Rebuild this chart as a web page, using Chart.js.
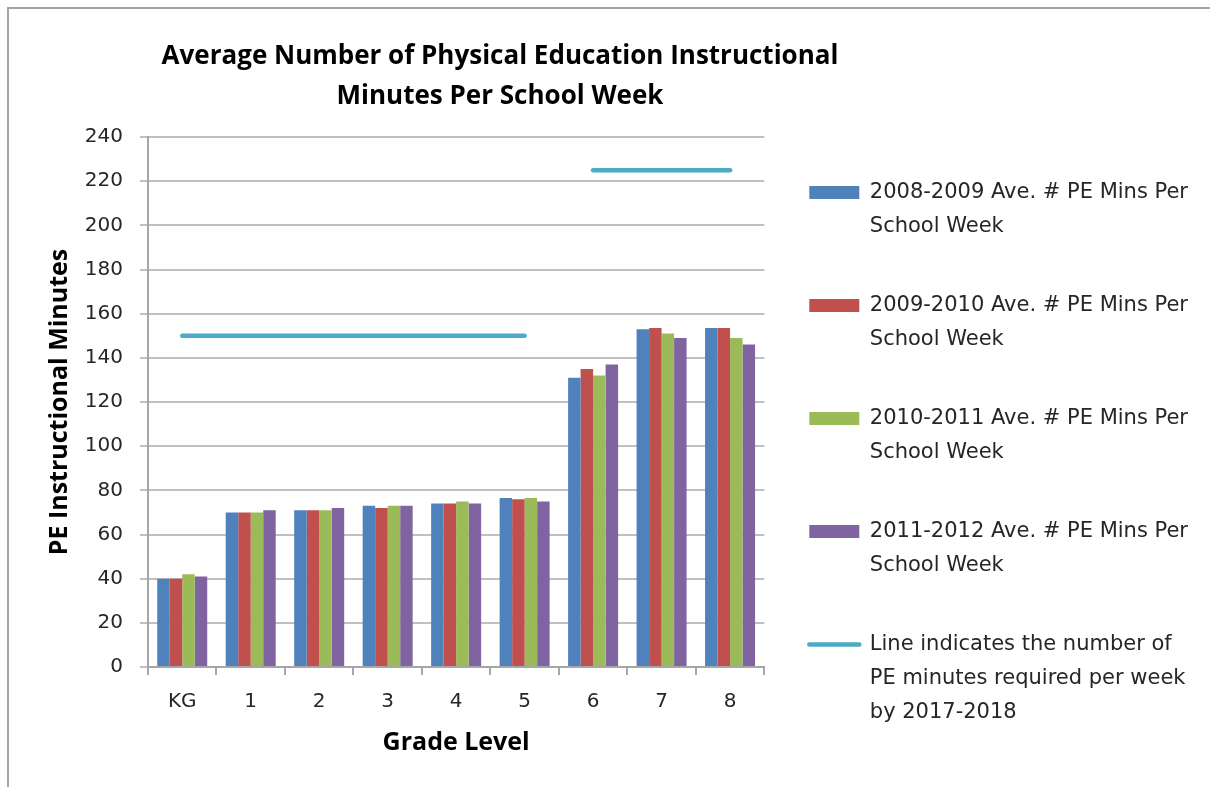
<!DOCTYPE html>
<html>
<head>
<meta charset="utf-8">
<script src="https://cdn.jsdelivr.net/npm/chart.js@4"></script>
<style>
  html, body { margin: 0; padding: 0; background: #fff; overflow: hidden; }
  #wrap { position: relative; width: 1210px; height: 787px; }
  #frame { position: absolute; left: 7px; top: 7px; right: -10px; bottom: -10px;
           border-left: 2px solid #a5a5a5; border-top: 2px solid #a5a5a5; pointer-events: none; }
  canvas { position: absolute; left: 0; top: 0; }
</style>
</head>
<body>
<div id="wrap">
  <canvas id="pe-chart" width="1210" height="787"></canvas>
  <div id="frame"></div>
</div>
<script>
// Grades on the x axis and the four school-year series (minutes per week)
const grades = ['KG', '1', '2', '3', '4', '5', '6', '7', '8'];
const mins0809 = [40, 70, 71, 73, 74, 76.5, 131, 153, 153.5];
const mins0910 = [40, 70, 71, 72, 74, 76, 135, 153.5, 153.5];
const mins1011 = [42, 70, 71, 73, 75, 76.5, 132, 151, 149];
const mins1112 = [41, 71, 72, 73, 74, 75, 137, 149, 146];

// Required minutes by 2017-2018: 150 for KG-5, 225 for 6-8
const requiredLower = [150, 150, 150, 150, 150, 150, null, null, null];
const requiredUpper = [null, null, null, null, null, null, 225, 225, 225];

const yMin = 0, yMax = 240, yStep = 20;

const titleLines = ['Average Number of Physical Education Instructional', 'Minutes Per School Week'];

const textColor = '#262626';
const axisGray = '#a6a6a6';
const gridGray = '#c0c0c0';
const lineBlue = '#4bacc6';

function barSet(label, data, color) {
  return {
    label: label,
    data: data,
    backgroundColor: color,
    borderWidth: 0,
    pointStyle: 'rect',
    categoryPercentage: 0.73,
    barPercentage: 1.0
  };
}

function requiredSet(label, data) {
  return {
    type: 'line',
    label: label,
    data: data,
    borderColor: lineBlue,
    borderWidth: 4.5,
    borderCapStyle: 'round',
    pointRadius: 0,
    pointHoverRadius: 0,
    pointStyle: 'line',
    pointBorderColor: lineBlue,
    pointBorderWidth: 4.5,
    spanGaps: false,
    fill: false
  };
}

// Two-line chart title, centred over the plot like the original sheet chart
const sheetTitle = {
  id: 'sheetTitle',
  afterDraw(chart) {
    const ctx = chart.ctx;
    ctx.save();
    ctx.font = 'bold 26px "Open Sans"';
    ctx.fillStyle = '#000';
    ctx.textAlign = 'center';
    ctx.textBaseline = 'middle';
    titleLines.forEach((line, i) => ctx.fillText(line, 500, 57 + i * 40));
    ctx.restore();
  }
};

new Chart(document.getElementById('pe-chart'), {
  type: 'bar',
  data: {
    labels: grades,
    datasets: [
      barSet(['2008-2009 Ave. # PE Mins Per', 'School Week'], mins0809, '#4f81bd'),
      barSet(['2009-2010 Ave. # PE Mins Per', 'School Week'], mins0910, '#c0504d'),
      barSet(['2010-2011 Ave. # PE Mins Per', 'School Week'], mins1011, '#9bbb59'),
      barSet(['2011-2012 Ave. # PE Mins Per', 'School Week'], mins1112, '#8064a2'),
      requiredSet(['Line indicates the number of', 'PE minutes required per week', 'by 2017-2018'], requiredLower),
      requiredSet('Required (grades 6-8)', requiredUpper)
    ]
  },
  options: {
    responsive: false,
    animation: false,
    layout: { padding: { top: 137, right: 12, bottom: 0, left: 0 } },
    plugins: {
      title: { display: false },
      tooltip: { enabled: false },
      legend: {
        position: 'right',
        align: 'start',
        maxWidth: 446,
        labels: {
          usePointStyle: true,
          pointStyleWidth: 50,
          boxHeight: 13,
          padding: 45,
          color: textColor,
          font: { family: 'DejaVu Sans', size: 21, lineHeight: 34 / 21 },
          // only one legend entry for the two requirement segments
          generateLabels: chart => Chart.defaults.plugins.legend.labels.generateLabels(chart)
            .filter(item => item.datasetIndex < 5)
            .map(item => {
              if (item.datasetIndex === 4) item.lineCap = 'round';
              return item;
            })
        }
      }
    },
    scales: {
      x: {
        afterFit: scale => { scale.height = 120; },
        grid: { display: true, drawOnChartArea: false, offset: true, tickLength: 8, color: axisGray, lineWidth: 2 },
        border: { color: axisGray, width: 2 },
        ticks: { padding: 15, color: textColor, font: { family: 'DejaVu Sans', size: 20 } },
        title: {
          display: true,
          text: 'Grade Level',
          color: '#000',
          font: { family: 'Open Sans', weight: 'bold', size: 25 },
          padding: { top: 14, bottom: 29 }
        }
      },
      y: {
        min: yMin,
        max: yMax,
        afterFit: scale => { scale.width = 148; },
        ticks: { stepSize: yStep, padding: 17, color: textColor, font: { family: 'DejaVu Sans', size: 20 } },
        grid: { color: gridGray, lineWidth: 2, tickLength: 8 },
        border: { color: axisGray, width: 2 },
        title: {
          display: true,
          text: 'PE Instructional Minutes',
          color: '#000',
          font: { family: 'Open Sans', weight: 'bold', size: 25 },
          padding: { top: 45, bottom: 0 }
        }
      }
    }
  },
  plugins: [sheetTitle]
});
</script>
</body>
</html>
